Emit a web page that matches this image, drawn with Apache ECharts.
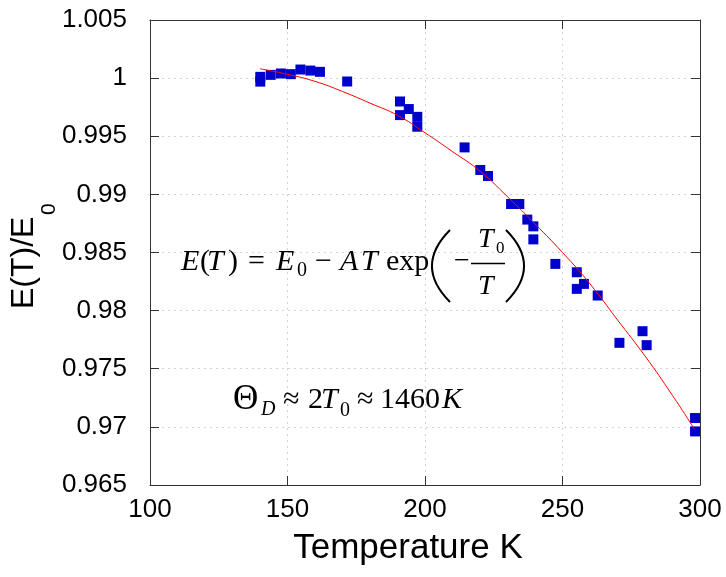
<!DOCTYPE html>
<html><head><meta charset="utf-8">
<script src="https://cdn.jsdelivr.net/npm/echarts/dist/echarts.min.js"></script>
<style>html,body{margin:0;padding:0;background:#fff}#c{width:726px;height:577px}</style>
</head><body><div id="c"></div>
<script>
// measured points
const tempK = [140.1, 140.1, 143.9, 147.6, 151.2, 154.7, 158.3, 161.8, 171.7,
  190.9, 194.1, 190.9, 197.2, 197.2, 214.4, 220.1, 222.9, 231.3, 234.3, 237.2,
  239.4, 239.4, 247.4, 255.2, 257.8, 255.2, 262.8, 270.7, 279.1, 280.6, 298.2, 298.2];
const ratio = [1.00011, 0.99970, 1.00028, 1.00040, 1.00034, 1.00074, 1.00065, 1.00054, 0.99971,
  0.99799, 0.99734, 0.99682, 0.99667, 0.99582, 0.99404, 0.99210, 0.99158, 0.98917, 0.98917, 0.98783,
  0.98725, 0.98613, 0.98402, 0.98330, 0.98230, 0.98187, 0.98130, 0.97723, 0.97823, 0.97703, 0.97076, 0.96961];
// fit curve
const fitT = [140, 150, 160, 170, 180, 190, 200, 210, 220, 230, 240, 250, 260, 270, 280, 290, 298];
const fitE = [1.0008, 1.00033, 0.99972, 0.99885, 0.99785, 0.99680, 0.99530, 0.99368, 0.99200, 0.98980,
  0.98746, 0.98500, 0.98230, 0.97920, 0.97610, 0.97270, 0.96980];
const xTickLabels = ['100', '150', '200', '250', '300'];
const yTickLabels = ['0.965', '0.97', '0.975', '0.98', '0.985', '0.99', '0.995', '1', '1.005'];
const xMin = 100, xMax = 300, xStep = 50;
const yMin = 0.965, yMax = 1.005, yStep = 0.005;

const SANS = 'Liberation Sans';
const SERIF = 'Liberation Serif';
const chart = echarts.init(document.getElementById('c'));

function t(x, y, text, size, italic, family) {
  return {
    type: 'text', z: 100,
    style: {
      x: x, y: y, text: text,
      fontSize: size, fontFamily: family || SERIF, fontStyle: italic ? 'italic' : 'normal',
      fill: '#000', textAlign: 'left', verticalAlign: 'middle', textVerticalAlign: 'middle'
    }
  };
}
function paren(x1, y1, x2, y2, cx, cy) {
  return { type: 'bezierCurve', z: 100,
    shape: { x1: x1, y1: y1, x2: x2, y2: y2, cpx1: cx, cpy1: cy },
    style: { stroke: '#000', lineWidth: 2, fill: null } };
}

const axisLineStyle = { color: '#333', width: 1 };
const tickCommon = { show: true, inside: true, length: 9, lineStyle: { color: '#333', width: 1 } };

chart.setOption({
  backgroundColor: '#fff',
  animation: false,
  grid: { left: 150, right: 26, top: 20, bottom: 92, containLabel: false },
  xAxis: [{
    type: 'value', min: xMin, max: xMax, interval: xStep, position: 'bottom',
    name: 'Temperature K', nameLocation: 'middle', nameGap: 46,
    nameTextStyle: { fontFamily: SANS, fontSize: 35, color: '#000', padding: [0, 34, 0, 0] },
    axisLine: { show: true, lineStyle: axisLineStyle },
    axisTick: tickCommon,
    axisLabel: { fontFamily: SANS, fontSize: 26, color: '#000', margin: 12,
      formatter: v => xTickLabels[Math.round((v - xMin) / xStep)] },
    splitLine: { show: true, lineStyle: { color: '#d2d2d2', width: 1, type: [2, 4] } }
  }, {
    type: 'value', min: xMin, max: xMax, interval: xStep, position: 'top',
    axisLine: { show: true, lineStyle: axisLineStyle },
    axisTick: tickCommon, axisLabel: { show: false }, splitLine: { show: false }
  }],
  yAxis: [{
    type: 'value', min: yMin, max: yMax, interval: yStep, position: 'left',
    axisLine: { show: true, lineStyle: axisLineStyle },
    axisTick: tickCommon,
    axisLabel: { fontFamily: SANS, fontSize: 26, color: '#000', margin: 23,
      formatter: v => yTickLabels[Math.round((v - yMin) / yStep)] },
    splitLine: { show: true, lineStyle: { color: '#d2d2d2', width: 1, type: [2, 4] } }
  }, {
    type: 'value', min: yMin, max: yMax, interval: yStep, position: 'right',
    axisLine: { show: true, lineStyle: axisLineStyle },
    axisTick: tickCommon, axisLabel: { show: false }, splitLine: { show: false }
  }],
  series: [{
    type: 'scatter', xAxisIndex: 0, yAxisIndex: 0, z: 2,
    symbol: 'rect', symbolSize: 10,
    itemStyle: { color: '#0000cd', opacity: 1 },
    data: tempK.map((x, i) => [x, ratio[i]])
  }, {
    type: 'line', xAxisIndex: 0, yAxisIndex: 0, z: 3,
    smooth: true, showSymbol: false, symbol: 'none',
    lineStyle: { color: '#ff0000', width: 1 },
    data: fitT.map((x, i) => [x, fitE[i]])
  }],
  graphic: [
    // y-axis title E(T)/E0, rotated
    { type: 'group', x: 24, y: 309, rotation: Math.PI / 2, children: [
      t(0, 0, 'E(T)/E', 32, false, SANS),
      t(94, 25, '0', 21, false, SANS)
    ] },
    // E(T) = E0 - AT exp(-T0/T)
    t(181, 262, 'E', 30, true),
    t(200, 262, '(', 30, false),
    t(207, 262, 'T', 30, true),
    t(228, 262, ')', 30, false),
    t(248, 262, '=', 30, false),
    t(276, 262, 'E', 30, true),
    t(297, 271, '0', 20, false),
    t(315, 262, '\u2212', 30, false),
    t(340, 262, 'A', 30, true),
    t(361, 262, 'T', 30, true),
    t(386, 262, 'exp', 30, false),
    paren(450, 230, 450, 302, 414, 266),
    t(454, 262, '\u2212', 28, false),
    t(478, 240, 'T', 28, true),
    t(496, 249, '0', 17, false),
    { type: 'line', z: 100, shape: { x1: 471, y1: 263.5, x2: 505, y2: 263.5 }, style: { stroke: '#000', lineWidth: 1.3 } },
    t(478, 287, 'T', 28, true),
    paren(506, 230, 506, 302, 542, 266),
    // Theta_D ~ 2T0 ~ 1460K
    t(233, 400, '\u0398', 35, false),
    t(261, 410, 'D', 20, true),
    t(283, 400, '\u2248', 30, false),
    t(308, 400, '2', 30, false),
    t(321, 400, 'T', 30, true),
    t(340, 411, '0', 20, false),
    t(357, 400, '\u2248', 30, false),
    t(380, 400, '1460', 30, false),
    t(442, 400, 'K', 30, true)
  ]
});
</script>
</body></html>
